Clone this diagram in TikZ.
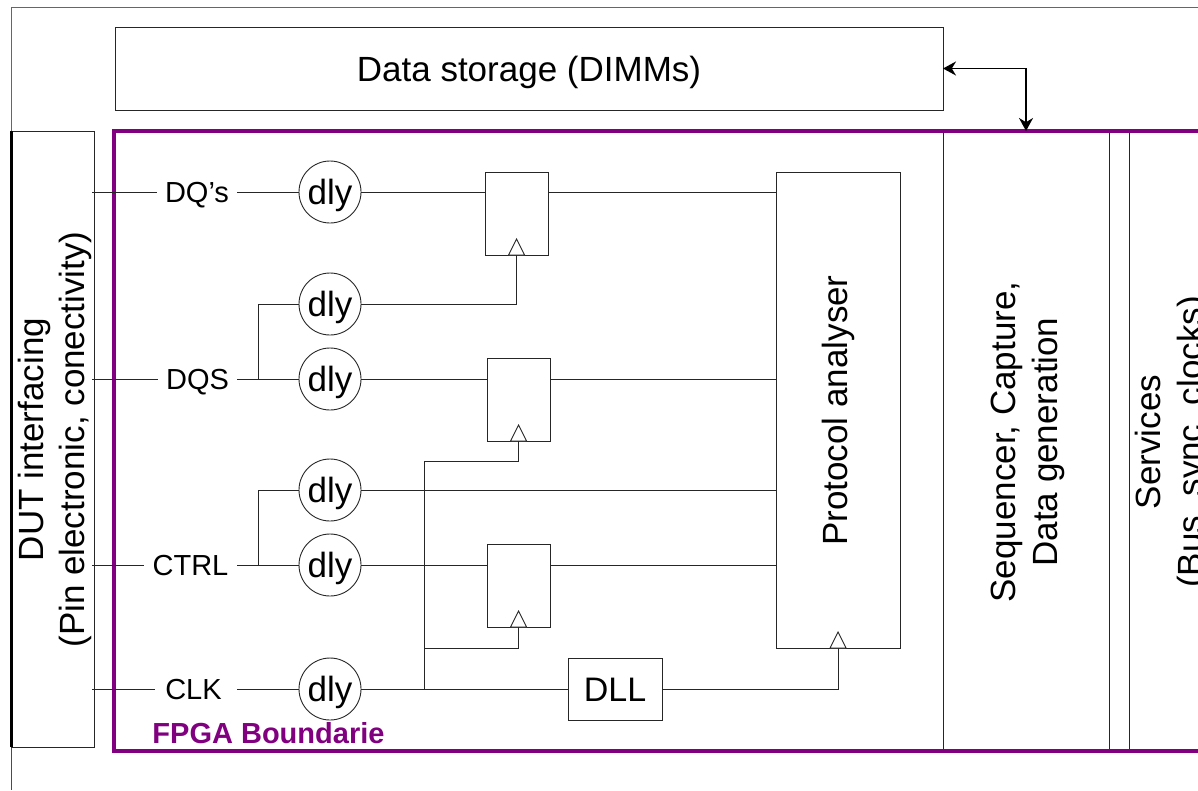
\documentclass[tikz,border=0pt]{standalone}
\usepackage{fontspec}
\setmainfont{Liberation Sans}
\usetikzlibrary{arrows.meta,positioning,shapes.geometric}
\definecolor{fpgapurple}{RGB}{128,0,128}
\tikzset{
    wire/.style={line width=0.9pt,draw=black!85},
    block/.style={draw=black!85,line width=0.9pt,outer sep=0pt,inner sep=0pt},
    dlycell/.style={block,circle,minimum size=62pt,fill=white,text height=24pt,text depth=0pt,font=\fontsize{35}{40}\selectfont},
    ffbox/.style={block,minimum width=63pt,minimum height=83pt},
    clktri/.style={block,isosceles triangle,isosceles triangle stretches,shape border rotate=90,
        minimum width=16pt,minimum height=16pt,anchor=lower side,fill=white},
    siglabel/.style={inner xsep=8.5pt,inner ysep=0pt,outer sep=0pt,text height=20pt,text depth=0pt,font=\fontsize{29}{34}\selectfont},
    rotbox/.style={block,rotate=90,minimum width=620pt},
    rotlabel/.style={rotate=90,align=center,inner sep=0pt,font=\fontsize{35}{42}\selectfont}
}
\begin{document}
\begin{tikzpicture}[x=1pt,y=-1pt]
        \useasboundingbox (0,0) rectangle (1198,790);
        \clip (0,0) rectangle (1198,790);

        % Outer frame
        \draw[draw=black!60,line width=0.9pt] (1198,7) -- (11,7) -- (11,131);
        \draw[draw=black!70,line width=0.9pt] (11,747) -- (11,790);

        % Data storage
        \node[block,
        minimum width=828pt,
        minimum height=83pt,
        text height=25pt,
        text depth=0pt,
        font=\fontsize{35}{42}\selectfont] (storage) at (529,68.5) {Data storage (DIMMs)};

        % DUT interfacing
        \node[block,
        rotate=90,
        minimum width=616pt,
        minimum height=83pt] (dut) at (52.6,439) {};
        \node[rotlabel,font=\fontsize{35}{40.5}\selectfont] (dutlabel) at (55,439.5) {DUT interfacing\\(Pin electronic, conectivity)};
        \draw[line width=3pt] (dut.north west) -- (dut.north east);

        % Right hand blocks
        \node[rotbox,minimum height=166pt] (seq) at (1026,441) {};
        \node[rotlabel] (seqlabel) at (1027.5,442) {Sequencer, Capture,\\Data generation};
        \node[rotbox,minimum height=82pt] (services) at (1170,441) {};
        \node[rotlabel] (serviceslabel) at (1172.5,442) {Services\\(Bus, sync, clocks)};

        % FPGA boundary
        \node[draw=fpgapurple,
        line width=3.5pt,
        outer sep=0pt,
        minimum width=1186pt,
        minimum height=620pt] (fpga) at (706.8,441) {};
        \node[text=fpgapurple,
        inner sep=0pt,
        font=\fontsize{29}{34}\selectfont\bfseries] (fpgalabel) at (268.5,733) {FPGA Boundarie};

        % Signal names
        \node[siglabel] (dqlabel) at (197,192) {DQ’s};
        \node[siglabel] (dqslabel) at (197.5,379) {DQS};
        \node[siglabel] (ctrllabel) at (190.5,565) {CTRL};
        \node[siglabel,inner xsep=10pt] (clklabel) at (193.5,689) {CLK};
        \coordinate (labelend) at (237,0);
        \coordinate (dutpin) at (92,0);

        % Delay cells
        \node[dlycell] (dly1) at (330,192) {dly};
        \node[dlycell] (dly2) at (330,304) {dly};
        \node[dlycell] (dly3) at (330,379) {dly};
        \node[dlycell] (dly4) at (330,490) {dly};
        \node[dlycell] (dly5) at (330,565) {dly};
        \node[dlycell] (dly6) at (330,689) {dly};

        % Capture registers
        \node[ffbox] (ff1) at (516.6,213.5) {};
        \node[ffbox] (ff2) at (518.6,399.5) {};
        \node[ffbox] (ff3) at (518.6,585.5) {};

        % Protocol analyser and DLL
        \node[block,
        minimum width=124pt,
        minimum height=476pt] (proto) at (838,410) {};
        \node[rotate=90,
        inner sep=0pt,
        font=\fontsize{35}{42}\selectfont] (protolabel) at (838.5,410.5) {Protocol analyser};
        \node[block,
        minimum width=94pt,
        minimum height=62pt,
        text height=24pt,
        text depth=0pt,
        font=\fontsize{34}{40}\selectfont] (dll) at (615,689) {DLL};

        % Clock inputs
        \node[clktri] (tri1) at (ff1.south) {};
        \node[clktri] (tri2) at (ff2.south) {};
        \node[clktri] (tri3) at (ff3.south) {};
        \node[clktri] (tri4) at (proto.south) {};

        \coordinate (dqstap) at (258,379);
        \coordinate (ctrltap) at (258,565);
        \coordinate (clktap) at (424,689);
        \coordinate (clkmid) at (424,648);
        \coordinate (clktop) at (424,461);

        % Wires
        \draw[wire] (dutpin|-dly1) -- (dqlabel.west|-dly1)
        (labelend|-dly1) -- (dly1);
        \draw[wire] (dutpin|-dly3) -- (dqslabel.west|-dly3)
        (labelend|-dly3) -- (dly3);
        \draw[wire] (dutpin|-dly5) -- (ctrllabel.west|-dly5)
        (labelend|-dly5) -- (dly5);
        \draw[wire] (dutpin|-dly6) -- (clklabel.west|-dly6)
        (labelend|-dly6) -- (dly6);

        \draw[wire] (dly1) -- (dly1-|ff1.west);
        \draw[wire] (ff1.east|-dly1) -- (dly1-|proto.west);
        \draw[wire] (dqstap) |- (dly2);
        \draw[wire] (dly2) -| (tri1.lower side);
        \draw[wire] (dly3) -- (dly3-|ff2.west);
        \draw[wire] (ff2.east|-dly3) -- (dly3-|proto.west);
        \draw[wire] (ctrltap) |- (dly4);
        \draw[wire] (dly4) -- (dly4-|proto.west);
        \draw[wire] (dly5) -- (dly5-|ff3.west);
        \draw[wire] (ff3.east|-dly5) -- (dly5-|proto.west);

        \draw[wire] (dly6) -- (dll);
        \draw[wire] (dll) -| (tri4.lower side);
        \draw[wire] (clktap) -- (clktop) -| (tri2.lower side);
        \draw[wire] (clkmid) -| (tri3.lower side);

        % Storage link
        \draw[line width=1.8pt,{Stealth[length=13pt,width=14pt]}-{Stealth[length=13pt,width=14pt]}]
        (storage) -| (seq.east);
\end{tikzpicture}
\end{document}
